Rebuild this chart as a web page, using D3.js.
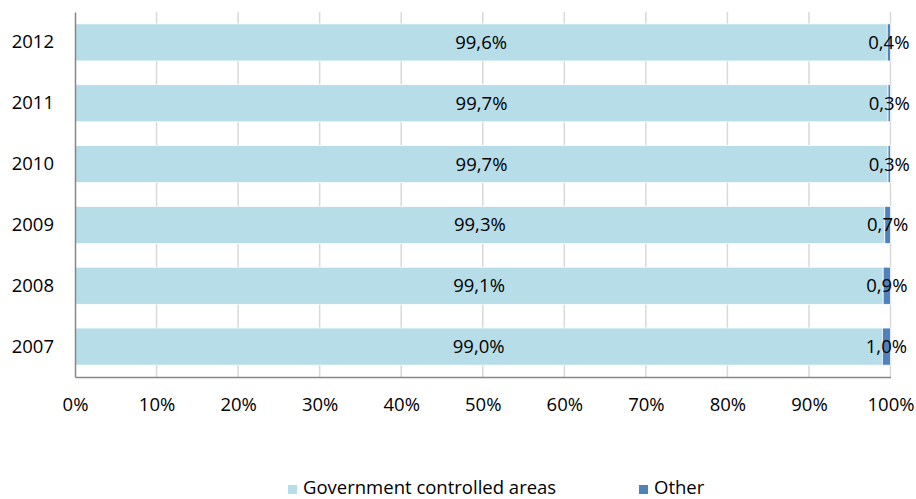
<!DOCTYPE html>
<html><head><meta charset="utf-8">
<script src="https://cdn.jsdelivr.net/npm/d3@7"></script>
<style>body{margin:0;background:#fff}svg{display:block}text{font-family:"Open Sans",Lato,sans-serif;fill:#000}</style>
</head><body><svg id="c" width="916" height="499"></svg>
<script>
const years = ["2012","2011","2010","2009","2008","2007"];
const government = [99.6, 99.7, 99.7, 99.3, 99.1, 99.0];
const other = [0.4, 0.3, 0.3, 0.7, 0.9, 1.0];
const seriesNames = ["Government controlled areas", "Other"];
const xTicks = [0,10,20,30,40,50,60,70,80,90,100];

const FONT = "'Open Sans',Lato,sans-serif";
const FS = 18.5;
const svg = d3.select("#c");
const m = {l:75, t:12};
const x = d3.scaleLinear().domain([0,100]).range([m.l, 890.5]);
const y = d3.scaleBand().domain(years).range([m.t, 377]).paddingInner(0.39).paddingOuter(0.195);
const colors = ["#B7DDE8", "#4F81BD"];
const fmt = v => v.toFixed(1).replace(".", ",") + "%";

// gridlines
svg.append("g").selectAll("line").data(xTicks.slice(1)).join("line")
  .attr("x1", d=>x(d)).attr("x2", d=>x(d)).attr("y1", m.t).attr("y2", 377)
  .attr("stroke", "#D9D9D9").attr("stroke-width", 1.5);

const rows = years.map((yr,i)=>({yr, g:government[i], o:other[i]}));
const g = svg.append("g");
g.selectAll("rect.gov").data(rows).join("rect").attr("class","gov")
  .attr("x", x(0)).attr("y", d=>y(d.yr)).attr("width", d=>x(d.g)-x(0)).attr("height", y.bandwidth())
  .attr("fill", colors[0]).attr("stroke","#fff").attr("stroke-width",0.75);
g.selectAll("rect.oth").data(rows).join("rect").attr("class","oth")
  .attr("x", d=>x(d.g)).attr("y", d=>y(d.yr)).attr("width", d=>x(d.g+d.o)-x(d.g)).attr("height", y.bandwidth())
  .attr("fill", colors[1]).attr("stroke","#fff").attr("stroke-width",0.75);

g.selectAll("text.gl").data(rows).join("text").attr("class","gl")
  .attr("x", d=>(x(0)+x(d.g))/2).attr("y", d=>y(d.yr)+y.bandwidth()/2).attr("dy","0.35em")
  .attr("text-anchor","middle").attr("font-size",FS).text(d=>fmt(d.g));
g.selectAll("text.ol").data(rows).join("text").attr("class","ol")
  .attr("x", d=>(x(d.g)+x(d.g+d.o))/2).attr("y", d=>y(d.yr)+y.bandwidth()/2).attr("dy","0.35em")
  .attr("text-anchor","middle").attr("font-size",FS).text(d=>fmt(d.o));

// axes
const ya = svg.append("g").attr("transform",`translate(${m.l},0)`)
  .call(d3.axisLeft(y).tickSize(0).tickPadding(21));
ya.select(".domain").attr("stroke","#868686").attr("stroke-width",1.5);
ya.selectAll("text").attr("font-size",FS).attr("font-family",FONT);

const xa = svg.append("g").attr("transform",`translate(0,377)`)
  .call(d3.axisBottom(x).tickValues(xTicks).tickFormat(d=>d+"%").tickSize(0).tickPadding(21));
xa.select(".domain").attr("stroke","#868686").attr("stroke-width",1.5);
xa.selectAll("text").attr("font-size",FS).attr("font-family",FONT);

// legend
const leg = svg.append("g");
const lx = [288, 639];
seriesNames.forEach((n,i)=>{
  leg.append("rect").attr("x", lx[i]).attr("y", 485).attr("width",9).attr("height",9).attr("fill",colors[i]);
  leg.append("text").attr("x", lx[i]+15).attr("y", 487.5).attr("dy","0.35em").attr("font-size",FS).text(n);
});
</script></body></html>
